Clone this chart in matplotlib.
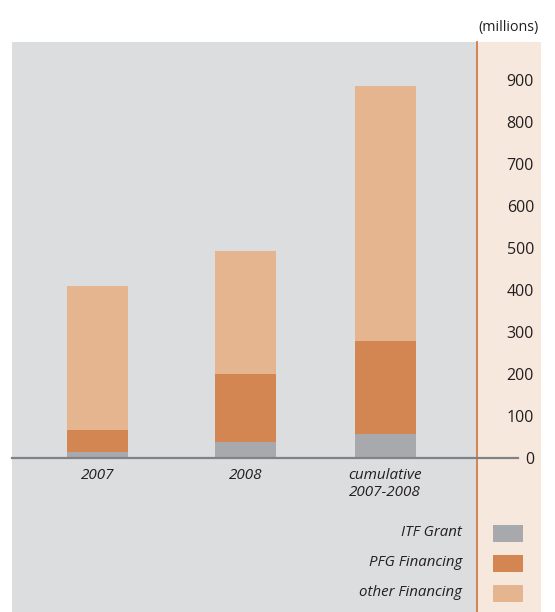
import matplotlib
matplotlib.use("Agg")
import matplotlib.pyplot as plt
from matplotlib.patches import Rectangle
import matplotlib.transforms as mtransforms

plt.rcParams['font.family'] = ['Open Sans', 'DejaVu Sans']

# ---- data ----
categories = ["2007", "2008", "cumulative\n2007-2008"]
itf_grant = [13, 37, 56]
pfg_financing = [53, 162, 222]
other_financing = [343, 294, 609]
series_names = ["ITF Grant", "PFG Financing", "other Financing"]
series_colors = ["#A7A9AC", "#D38552", "#E5B590"]
y_ticks = [0, 100, 200, 300, 400, 500, 600, 700, 800, 900]
unit_label = "(millions)"

# ---- layout ----
W, H = 555, 612
fig = plt.figure(figsize=(W / 100, H / 100), dpi=100)
fig.patch.set_facecolor("white")

bg = fig.add_axes([0, 0, 1, 1])
bg.set_xlim(0, W)
bg.set_ylim(H, 0)
bg.axis("off")
bg.set_zorder(1)
bg.add_patch(Rectangle((476, 42), 65, H - 42, facecolor="#F7E8DE", edgecolor="none"))
bg.plot([476.5, 476.5], [42, H], color="#D27B45", lw=1.3)
bg.text(539, 28, unit_label, ha="right", va="center", fontsize=10.3, color="#231F20")

ax_left, ax_right, ax_top = 12, 476, 42
ax = fig.add_axes([ax_left / W, 0, (ax_right - ax_left) / W, (H - ax_top) / H])
ax.set_facecolor("#DCDDDF")
ax.set_zorder(2)

px_per_unit = 0.419
zero_px = 457.5
ax.set_ylim(-(H - zero_px) / px_per_unit, (zero_px - ax_top) / px_per_unit)

x_pos = [0, 1, 1.946]
bar_w = 0.41
ax.set_xlim(-(97.3 - ax_left) / 148, (ax_right - 97.3) / 148)

bottoms = [0, 0, 0]
for vals, col in zip([itf_grant, pfg_financing, other_financing], series_colors):
    ax.bar(x_pos, vals, width=bar_w, bottom=bottoms, color=col, edgecolor="none", zorder=2)
    bottoms = [b + v for b, v in zip(bottoms, vals)]

# zero line extending into the right panel
trans = mtransforms.blended_transform_factory(ax.transAxes, ax.transData)
ax.plot([0, (518 - ax_left) / (ax_right - ax_left)], [0, 0], transform=trans,
        color="#808285", lw=1.6, clip_on=False, zorder=3)

for s in ax.spines.values():
    s.set_visible(False)
ax.spines["bottom"].set_position(("data", 0))

ax.yaxis.tick_right()
ax.set_yticks(y_ticks)
ax.set_yticklabels([str(v) for v in y_ticks])
ax.tick_params(axis="y", length=0, pad=(534 - ax_right) * 0.72, labelsize=11.5, labelcolor="#231F20")
for lbl in ax.get_yticklabels():
    lbl.set_horizontalalignment("right")

ax.set_xticks(x_pos)
ax.set_xticklabels(categories, fontstyle="italic", linespacing=1.15)
ax.tick_params(axis="x", length=0, pad=7.5, labelsize=11, labelcolor="#231F20")

# legend (drawn on an overlay so labels sit above the gray panel)
leg = fig.add_axes([0, 0, 1, 1])
leg.set_xlim(0, W)
leg.set_ylim(H, 0)
leg.axis("off")
leg.set_zorder(3)
leg_y = [533, 563, 593]
for name, col, yy in zip(series_names, series_colors, leg_y):
    leg.text(462, yy, name, ha="right", va="center", fontsize=10.8, fontstyle="italic",
             color="#231F20")
    leg.add_patch(Rectangle((493, yy - 8.5), 30, 17, facecolor=col, edgecolor="none"))

fig.savefig("out.png", dpi=100)
